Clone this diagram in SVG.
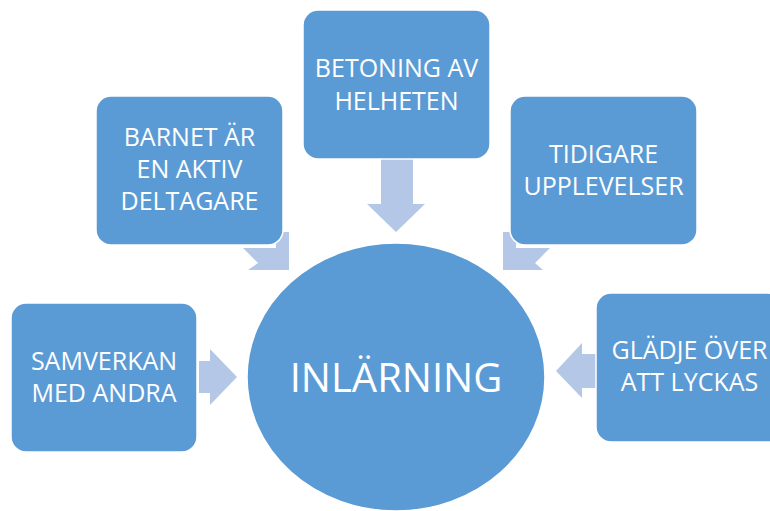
<svg xmlns="http://www.w3.org/2000/svg" width="770" height="511" viewBox="0 0 770 511">
<style>
.box{fill:#5B9BD5;stroke:#FFFFFF;stroke-width:1.5}
.arr{fill:#B4C7E7}
.t{font-family:"Open Sans","Noto Sans","Liberation Sans",sans-serif;font-size:25px;fill:#FFFFFF;text-anchor:middle}
.c{font-size:40px}
</style>
<rect width="770" height="511" fill="#FFFFFF"/>
<g id="connectors">
<polygon class="arr" points="381,158 413,158 413,204 425,204 396,232 367,204 381,204"/>
<polygon class="arr" points="243,248 276,248 276,232 289,232 289,270 248,270 258,263"/>
<polygon class="arr" points="503,232 516,232 516,248 550,248 535,263 543,270 503,270"/>
<polygon class="arr" points="199,361 210,361 210,349 237,377 210,405 210,393 199,393"/>
<polygon class="arr" points="596,354 582,354 582,343 556,371 582,398 582,388 596,388"/>
</g>
<g id="center">
<ellipse class="box" cx="396" cy="377" rx="149" ry="134"/>
<text class="t c" x="396" y="392">INLÄRNING</text>
</g>
<g id="n-top">
<rect class="box" x="303" y="10" width="187" height="149" rx="15"/>
<text class="t" x="396.5" y="77">BETONING AV</text>
<text class="t" x="396.5" y="110">HELHETEN</text>
</g>
<g id="n-topleft">
<rect class="box" x="96" y="96" width="187" height="149" rx="15"/>
<text class="t" x="189.5" y="146">BARNET ÄR</text>
<text class="t" x="189.5" y="178">EN AKTIV</text>
<text class="t" x="189.5" y="210">DELTAGARE</text>
</g>
<g id="n-topright">
<rect class="box" x="510" y="96" width="187" height="149" rx="15"/>
<text class="t" x="603.5" y="163">TIDIGARE</text>
<text class="t" x="603.5" y="195">UPPLEVELSER</text>
</g>
<g id="n-left">
<rect class="box" x="11" y="303" width="186" height="149" rx="15"/>
<text class="t" x="104" y="370">SAMVERKAN</text>
<text class="t" x="104" y="402">MED ANDRA</text>
</g>
<g id="n-right">
<rect class="box" x="596" y="293" width="187" height="149" rx="15"/>
<text class="t" x="689.5" y="359">GLÄDJE ÖVER</text>
<text class="t" x="689.5" y="391">ATT LYCKAS</text>
</g>
</svg>
